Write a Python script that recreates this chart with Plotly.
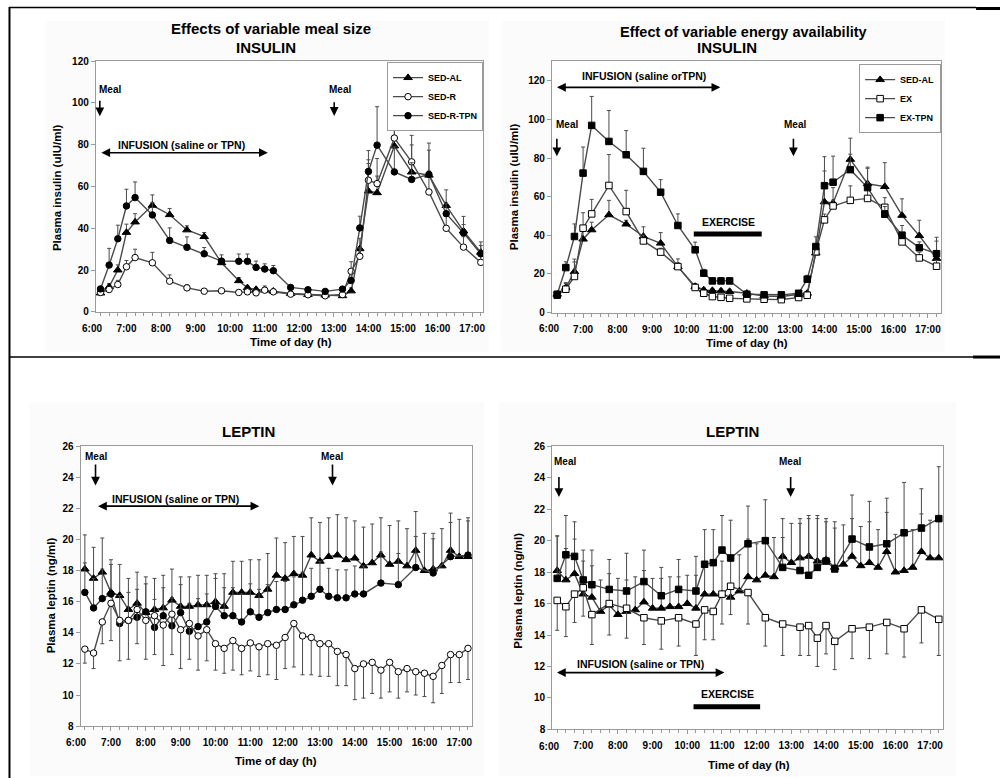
import plotly.graph_objects as go

W, H = 1002, 778
# empirical vertical correction so the photographed page matches reference pixel positions
VS, VOFF = 0.983, 6.0

def hrs(t):
    h, m = t.split(":")
    return int(h) + int(m) / 60.0

def px(x):
    return x / W

def py(y):
    return 1 - ((y - VOFF) / VS) / H

# ---------------- DATA ----------------
# Insulin sampling times (also used for EX / EX-TPN leptin)
ins_times = ["6:15", "6:30", "6:45", "7:00", "7:15", "7:45", "8:15", "8:45", "9:15", "9:45",
             "10:15", "10:30", "10:45", "11:00", "11:15", "11:45", "12:15", "12:45", "13:15",
             "13:30", "13:45", "14:00", "14:15", "14:45", "15:15", "15:45", "16:15", "16:45", "17:15"]

# Panel 1: Effects of variable meal size - insulin
p1_sedal = [9, 12, 20, 38, 43, 51, 46.5, 39.2, 36, 23.5, 14.9, 11.5, 10.7, 10.4, 9.9,
            8.8, 8.3, 8.0, 7.7, 10, 30.2, 57.8, 57, 79.4, 66.9, 65.4, 50.9, 38.7, 28.5]
p1_sedal_err = [1, 1.5, 2.5, 4, 4, 5, 3, 2, 2, 1.5, 1.5, 1, 1, 1, 1,
                1, 1, 1, 1, 1.5, 5, 15, 8, 14, 13, 12, 7.5, 7, 5]
p1_sedr = [9.3, 10.7, 13.1, 21.6, 26, 23.5, 14.7, 11.5, 9.9, 10.1, 9.3, 9.6, 9.1, 10.4, 9.6,
           8.5, 8.2, 7.7, 8.3, 19.4, 26.6, 63, 61.4, 83.2, 71.8, 57.4, 40, 31, 23.7]
p1_sedr_err = [1, 1, 2, 3, 4, 5, 3, 1.5, 1, 1, 1, 1, 1, 2, 1,
               1, 1, 1, 1, 4.6, 4, 8, 12, 15.7, 12.7, 10, 6, 5, 4]
p1_tpn = [11, 22.4, 35, 50.7, 54.7, 46.4, 34.2, 30.9, 27.8, 24.3, 24.2, 24.2, 21.3, 20.5, 19.7,
          11.7, 10.6, 9.8, 10.9, 15, 40.2, 67.2, 79.8, 67, 63.4, 65.8, 47, 37.8, 27.8]
p1_tpn_err = [1, 8, 6.5, 8, 7.5, 6, 6, 5, 3, 3, 3.5, 3.5, 3, 2.5, 2.5,
              1, 1, 1, 1, 3, 5.6, 10, 18.4, 12, 8, 15, 5, 4, 4]

# Panel 2: Effect of variable energy availability - insulin
p2_sedal = [9.5, 13, 21.2, 38, 42.8, 50.6, 45.8, 39.4, 35.9, 23.8, 13.5, 11.7, 11.4, 11.2, 10.9,
            10, 8.6, 8.3, 9.2, 10, 30.8, 57.3, 56.7, 79.3, 66.7, 65.2, 50.3, 39.8, 28]
p2_sedal_err = [1, 2.5, 5, 4, 4, 7.5, 2, 5, 5.5, 4, 1.5, 1, 1, 1, 1,
                1, 1, 1, 1, 1, 4, 16, 8, 11, 8.6, 12.4, 8.6, 8, 9]
p2_ex = [9, 12.1, 18.7, 43.7, 51.1, 65.8, 52.3, 37.1, 31.3, 23.8, 13, 10, 8.3, 7.9, 7.4,
         7.1, 6.9, 6.7, 7.8, 9, 31.5, 48, 55.2, 58.1, 59.1, 54.5, 36.6, 28.3, 24]
p2_ex_err = [1, 3, 9, 8, 7.5, 16, 11, 3, 2, 2, 1, 1, 1, 1, 1,
             1, 1, 1, 1, 1, 3, 3, 3, 7.5, 8, 5, 4, 3, 3]
p2_extpn = [9.5, 23.3, 39.4, 72.2, 96.9, 88.6, 81.7, 73.1, 62.3, 45.1, 32.5, 20.4, 16.4, 16.4, 16.4,
            9.5, 9.2, 9.2, 10.0, 17.3, 34.2, 65.7, 67.5, 74.0, 64.7, 50.9, 40.1, 33.6, 30.5]
p2_extpn_err = [1, 3, 6.5, 13.5, 15, 16, 12.5, 12, 6.5, 6, 4, 2, 1.5, 1.5, 1.5,
                1, 1, 1, 1, 2, 5, 15, 13.5, 8, 10, 4, 5, 3, 8.5]

# Leptin 15-min sampling times
lep_times = ["6:15", "6:30", "6:45", "7:00", "7:15", "7:30", "7:45", "8:00", "8:15", "8:30",
             "8:45", "9:00", "9:15", "9:30", "9:45", "10:00", "10:15", "10:30", "10:45", "11:00",
             "11:15", "11:30", "11:45", "12:00", "12:15", "12:30", "12:45", "13:00", "13:15", "13:30",
             "13:45", "14:00", "14:15", "14:30", "14:45", "15:00", "15:15", "15:30", "15:45", "16:00",
             "16:15", "16:30", "16:45", "17:00", "17:15"]

lep_sedal = [18.1, 17.5, 17.9, 16.6, 16.4, 15.5, 15.9, 15.3, 15.5, 15.6, 16.1, 15.7, 15.7, 15.8, 15.8,
             16.0, 15.7, 16.6, 16.6, 16.6, 16.4, 16.8, 17.7, 17.5, 17.8, 17.7, 19.0, 18.6, 18.9, 19.0,
             18.7, 18.8, 18.3, 18.5, 19.0, 18.4, 18.6, 18.3, 19.3, 18.0, 18.1, 18.3, 19.3, 18.9, 18.9]
lep_sedal_err = [2.2, 2.0, 2.2, 2.1, 2.0, 2.0, 2.0, 2.3, 2.0, 2.1, 2.0, 1.9, 1.9, 1.9, 1.9,
                 1.8, 2.1, 2.0, 2.0, 2.1, 2.3, 2.3, 2.4, 2.3, 2.4, 2.5, 2.4, 2.5, 2.5, 2.6,
                 2.7, 2.4, 2.5, 2.5, 2.4, 2.5, 2.6, 2.4, 2.5, 2.4, 2.3, 2.4, 2.4, 2.4, 2.5]

lep_sedr = [12.95, 12.7, 14.7, 15.9, 14.8, 14.8, 15.5, 14.8, 15.1, 14.5, 15.2, 14.2, 14.6, 13.8, 14.2,
            13.3, 13.0, 13.5, 13.0, 13.35, 13.1, 13.3, 13.2, 13.7, 14.6, 13.8, 13.7, 13.3, 13.3, 12.8,
            12.6, 11.7, 12.0, 12.1, 11.6, 12.1, 11.5, 11.7, 11.5, 11.4, 11.2, 11.9, 12.6, 12.6, 13.0]
lep_sedr_err = [0.9, 1.0, 1.4, 2.4, 2.6, 2.5, 2.2, 2.5, 2.5, 2.6, 2.6, 2.5, 2.3, 2.2, 2.0,
                1.7, 1.6, 1.9, 1.7, 1.8, 1.9, 2.0, 2.2, 2.0, 2.8, 2.5, 2.4, 2.1, 2.1, 2.2,
                2.0, 2.0, 2.2, 2.0, 1.8, 1.9, 1.7, 1.5, 1.5, 1.5, 1.7, 1.8, 1.8, 1.8, 2.0]

lep_tpn_times = ["6:15", "6:30", "6:45", "7:00", "7:15", "7:30", "7:45", "8:00", "8:15", "8:30",
                 "8:45", "9:00", "9:15", "9:30", "9:45", "10:00", "10:15", "10:30", "10:45", "11:00",
                 "11:15", "11:30", "11:45", "12:00", "12:15", "12:30", "12:45", "13:00", "13:15", "13:30",
                 "13:45", "14:00", "14:15", "14:45", "15:15", "15:45", "16:15", "16:45", "17:15"]
lep_tpn = [16.6, 15.6, 16.2, 16.5, 14.6, 14.8, 15.0, 15.35, 14.35, 15.1, 14.45, 15.3, 14.1, 14.4, 14.7,
           15.7, 15.1, 15.1, 14.7, 15.35, 15.0, 15.3, 15.5, 15.5, 15.8, 16.1, 16.35, 16.8, 16.35, 16.25,
           16.25, 16.5, 16.5, 17.2, 17.1, 18.2, 17.85, 18.9, 19.0]
lep_tpn_err = [1.9, 1.9, 1.9, 1.9, 1.8, 1.8, 1.8, 1.8, 1.8, 1.8, 1.8, 1.8, 1.8, 1.8, 1.8,
               1.8, 1.8, 1.8, 1.8, 1.8, 1.8, 1.8, 1.8, 1.8, 1.8, 1.8, 1.8, 1.8, 1.8, 1.8,
               1.8, 1.8, 1.8, 2.0, 2.0, 2.0, 2.2, 2.2, 2.2]

lep_ex = [16.2, 15.8, 16.6, 17.0, 15.3, 16.0, 15.7, 15.1, 14.9, 15.1, 14.7, 15.6, 15.5, 16.6, 17.1,
          16.7, 15.1, 14.7, 14.5, 14.6, 13.8, 14.6, 13.6, 14.4, 14.5, 14.8, 14.4, 15.6, 15.0]
lep_ex_err = [1.9, 1.9, 1.8, 1.8, 1.9, 2.0, 1.9, 1.7, 1.8, 1.8, 2.0, 1.9, 1.8, 1.9, 1.8,
              2.0, 1.8, 2.0, 1.8, 1.9, 1.8, 1.8, 1.8, 1.9, 2.0, 2.0, 1.8, 2.1, 2.3]
lep_extpn = [17.6, 19.1, 19.0, 17.5, 17.2, 16.9, 16.8, 17.4, 16.5, 16.9, 16.8, 18.5, 18.6, 19.4, 18.9,
             19.8, 20.0, 18.3, 18.1, 17.8, 18.3, 18.7, 18.2, 20.1, 19.6, 19.8, 20.5, 20.8, 21.4]
lep_extpn_err = [2.7, 2.5, 2.2, 1.9, 2.2, 1.9, 2.4, 2.0, 1.8, 1.9, 2.2, 2.2, 2.1, 2.2, 2.4,
                 2.4, 2.6, 1.9, 3.0, 3.6, 3.3, 2.7, 3.0, 2.8, 2.9, 2.9, 3.2, 2.5, 3.3]

hour_labels = ["6:00", "7:00", "8:00", "9:00", "10:00", "11:00", "12:00",
               "13:00", "14:00", "15:00", "16:00", "17:00"]

# ---------------- STYLE ----------------
FONT = "Liberation Sans, Arial, sans-serif"
LINE_C = "#4a4a4a"
ERR_C = "#4a4a4a"
AXIS_C = "#9a9a9a"


def series(x_times, y, err, name, symbol, fill, xa, ya, legend=None, down=False, size=6.5):
    zeros = [0] * len(err)
    ey = dict(type="data", symmetric=False, color=ERR_C, thickness=1, width=2,
              array=(zeros if down else err), arrayminus=(err if down else zeros))
    return go.Scatter(
        x=[hrs(t) for t in x_times], y=y, name=name, mode="lines+markers",
        xaxis=xa, yaxis=ya,
        line=dict(color=LINE_C, width=1.4),
        marker=dict(symbol=symbol, size=size, color=fill, line=dict(color="black", width=1)),
        error_y=ey, showlegend=legend is not None, legend=legend or "legend",
    )


fig = go.Figure()

# Panel 1
fig.add_trace(series(ins_times, p1_sedal, p1_sedal_err, "SED-AL", "triangle-up", "black", "x", "y", "legend", size=7.5))
fig.add_trace(series(ins_times, p1_sedr, p1_sedr_err, "SED-R", "circle", "white", "x", "y", "legend"))
fig.add_trace(series(ins_times, p1_tpn, p1_tpn_err, "SED-R-TPN", "circle", "black", "x", "y", "legend"))
# Panel 2
fig.add_trace(series(ins_times, p2_sedal, p2_sedal_err, "SED-AL", "triangle-up", "black", "x2", "y2", "legend2", size=7.5))
fig.add_trace(series(ins_times, p2_ex, p2_ex_err, "EX", "square", "white", "x2", "y2", "legend2"))
fig.add_trace(series(ins_times, p2_extpn, p2_extpn_err, "EX-TPN", "square", "black", "x2", "y2", "legend2"))
# Panel 3
fig.add_trace(series(lep_times, lep_sedal, lep_sedal_err, "SED-AL", "triangle-up", "black", "x3", "y3", size=7.5))
fig.add_trace(series(lep_tpn_times, lep_tpn, lep_tpn_err, "SED-R-TPN", "circle", "black", "x3", "y3"))
fig.add_trace(series(lep_times, lep_sedr, lep_sedr_err, "SED-R", "circle", "white", "x3", "y3", down=True))
# Panel 4
fig.add_trace(series(lep_times, lep_sedal, lep_sedal_err, "SED-AL", "triangle-up", "black", "x4", "y4", size=7.5))
fig.add_trace(series(ins_times, lep_ex, lep_ex_err, "EX", "square", "white", "x4", "y4", down=True))
fig.add_trace(series(ins_times, lep_extpn, lep_extpn_err, "EX-TPN", "square", "black", "x4", "y4"))

# ---------------- AXES ----------------
# xd/yd: plot-area pixel box; x6: pixel of the 6:00 tick; lab: pixel row of the hour labels
panels = {
    1: dict(xd=(96, 484), yd=(62, 312), xr=(6.114, 17.315), yr=(0, 120), dt=20, x6=92.0, lab=328.3),
    2: dict(xd=(553, 943), yd=(62.3, 312.7), xr=(6.096, 17.383), yr=(0, 130), dt=20, x6=549.7, lab=328.5),
    3: dict(xd=(80.7, 473), yd=(446, 725), xr=(6.126, 17.367), yr=(8, 26), dt=2, x6=76.3, lab=741.7),
    4: dict(xd=(553.3, 945), yd=(446, 728.3), xr=(6.106, 17.375), yr=(8, 26), dt=2, x6=549.6, lab=745.0),
}
tickfont = dict(family=FONT, size=10, color="black", weight="bold")
hour_vals = [hrs(t) for t in hour_labels]
for k, p in panels.items():
    sx = "" if k == 1 else str(k)
    fig.layout["xaxis" + sx] = dict(
        domain=[px(p["xd"][0]), px(p["xd"][1])], range=list(p["xr"]), anchor="y" + sx,
        tickvals=hour_vals[1:], ticktext=hour_labels[1:], ticks="outside", ticklen=4,
        tickcolor=AXIS_C, showline=True, linecolor=AXIS_C, linewidth=1, mirror=True,
        showgrid=False, zeroline=False, tickfont=tickfont, ticklabelstandoff=3,
        minor=dict(dtick=0.25, tick0=6, ticks="outside", ticklen=3, tickcolor=AXIS_C, showgrid=False),
    )
    fig.layout["yaxis" + sx] = dict(
        domain=[py(p["yd"][1]), py(p["yd"][0])], range=list(p["yr"]), anchor="x" + sx,
        dtick=p["dt"], tick0=0, ticks="outside", ticklen=4, tickcolor=AXIS_C,
        showline=True, linecolor=AXIS_C, linewidth=1, mirror=True,
        showgrid=False, zeroline=False, tickfont=tickfont,
    )

# ---------------- ANNOTATIONS ----------------
ann = []
def text(x, y, s, size=10, xanchor="center", xref="paper", yref="paper", angle=0, yanchor="middle"):
    ann.append(dict(x=x, y=y, xref=xref, yref=yref, text=s, showarrow=False, xanchor=xanchor,
                    yanchor=yanchor, textangle=angle,
                    font=dict(family=FONT, size=size, color="black", weight="bold")))

def arrow(x0, y0, x1, y1, xr, yr, both=False):
    ann.append(dict(x=x1, y=y1, ax=x0, ay=y0, xref=xr, yref=yr, axref=xr, ayref=yr, text="",
                    showarrow=True, arrowhead=2, arrowsize=1.1, arrowwidth=1.6, arrowcolor="black",
                    arrowside="end+start" if both else "end", startarrowhead=2, startarrowsize=1.1))

# 6:00 labels (the 6:00 tick sits just left of each plot box)
for k, p in panels.items():
    ann.append(dict(x=px(p["x6"]), y=py(p["lab"]), xref="paper", yref="paper", text=hour_labels[0],
                    showarrow=False, xanchor="center", yanchor="middle", font=tickfont))

# Titles
text(px(271.7), py(29.3), "Effects of variable meal size", 15)
text(px(266.7), py(48.3), "INSULIN", 15)
text(px(745), py(33.3), "Effect of variable energy availability", 14.5)
text(px(728.3), py(48.3), "INSULIN", 15)
text(px(249), py(431.7), "LEPTIN", 15)
text(px(734), py(431.7), "LEPTIN", 15)

# Axis titles
text(px(291.7), py(341.7), "Time of day (h)", 11.5)
text(px(748.3), py(343.3), "Time of day (h)", 11.5)
text(px(276.7), py(760), "Time of day (h)", 11.5)
text(px(750), py(763.3), "Time of day (h)", 11.5)
text(px(56.7), py(188), "Plasma insulin (uIU/ml)", 11.5, angle=-90)
text(px(515), py(186.7), "Plasma insulin (uIU/ml)", 11.5, angle=-90)
text(px(50.7), py(595), "Plasma leptin (ng/ml)", 11.5, angle=-90)
text(px(519), py(590), "Plasma leptin (ng/ml)", 11.5, angle=-90)

# Panel 1 annotations
text(6.158, 106.6, "Meal", 10, "left", "x", "y")
arrow(6.23, 101.8, 6.23, 93.6, "x", "y")
text(12.80, 106.6, "Meal", 10, "left", "x", "y")
arrow(13.01, 101, 13.01, 93.8, "x", "y")
text(8.59, 79.8, "INFUSION (saline or TPN)", 10.5, "center", "x", "y")
arrow(6.23, 76.2, 11.09, 76.2, "x", "y", both=True)

# Panel 2 annotations
text(6.168, 97.5, "Meal", 10, "left", "x2", "y2")
arrow(6.24, 90.8, 6.24, 80.9, "x2", "y2")
text(12.78, 97.5, "Meal", 10, "left", "x2", "y2")
arrow(13.10, 90.8, 13.10, 80.9, "x2", "y2")
text(8.78, 122.6, "INFUSION (saline orTPN)", 10.5, "center", "x2", "y2")
arrow(6.20, 116.6, 10.98, 116.6, "x2", "y2", both=True)
text(11.22, 46.8, "EXERCISE", 10.5, "center", "x2", "y2")

# Panel 3 annotations
text(6.556, 25.37, "Meal", 10, "center", "x3", "y3")
arrow(6.556, 24.92, 6.556, 23.48, "x3", "y3")
text(13.36, 25.37, "Meal", 10, "center", "x3", "y3")
arrow(13.36, 24.92, 13.36, 23.48, "x3", "y3")
text(8.865, 22.63, "INFUSION (saline or TPN)", 10.5, "center", "x3", "y3")
arrow(6.585, 22.15, 11.26, 22.15, "x3", "y3", both=True)

# Panel 4 annotations
text(6.48, 25.04, "Meal", 10, "center", "x4", "y4")
arrow(6.30, 24.15, 6.30, 22.77, "x4", "y4")
text(12.97, 25.04, "Meal", 10, "center", "x4", "y4")
arrow(12.98, 24.15, 12.98, 22.77, "x4", "y4")
text(8.64, 12.18, "INFUSION (saline or TPN)", 10.5, "center", "x4", "y4")
arrow(6.20, 11.61, 11.07, 11.61, "x4", "y4", both=True)
text(11.15, 10.23, "EXERCISE", 10.5, "center", "x4", "y4")

# ---------------- SHAPES ----------------
shapes = []
# very faint chart-area backgrounds with white plot areas
for (x0, y0, x1, y1) in [(45, 22, 490, 352), (502, 22, 947, 352), (30, 402, 485, 775), (500, 402, 958, 775)]:
    shapes.append(dict(type="rect", xref="paper", yref="paper", x0=px(x0), x1=px(x1), y0=py(y1), y1=py(y0),
                       fillcolor="#fbfbfb", line=dict(width=0), layer="below"))
for k, p in panels.items():
    shapes.append(dict(type="rect", xref="paper", yref="paper", x0=px(p["xd"][0]), x1=px(p["xd"][1]),
                       y0=py(p["yd"][1]), y1=py(p["yd"][0]), fillcolor="white", line=dict(width=0),
                       layer="below"))
# exercise bars
shapes.append(dict(type="line", xref="x2", yref="y2", x0=10.21, x1=12.18, y0=40.7, y1=40.7,
                   line=dict(color="black", width=5)))
shapes.append(dict(type="line", xref="x4", yref="y4", x0=10.18, x1=12.10, y0=9.44, y1=9.44,
                   line=dict(color="black", width=5)))
# table rules
for (x0, y0, x1, y1, w) in [(9, 8.5, 978, 8.5, 1.5), (978, 9.5, 1002, 9.5, 3),
                            (9, 357, 975, 357, 1.5), (975, 357, 1002, 357, 3),
                            (9.5, 8, 9.5, 790, 2)]:
    shapes.append(dict(type="line", xref="paper", yref="paper", x0=px(x0), x1=px(x1), y0=py(y0), y1=py(y1),
                       line=dict(color="black", width=w)))

legend_font = dict(family=FONT, size=9, color="black", weight="bold")
fig.update_layout(
    width=W, height=H, margin=dict(l=0, r=0, t=0, b=0),
    paper_bgcolor="white", plot_bgcolor="rgba(0,0,0,0)",
    annotations=ann, shapes=shapes,
    legend=dict(x=px(484), y=py(63), xanchor="right", yanchor="top", bgcolor="white",
                bordercolor="#9a9a9a", borderwidth=1, font=legend_font, itemwidth=30,
                tracegroupgap=0),
    legend2=dict(x=px(943), y=py(65), xanchor="right", yanchor="top", bgcolor="white",
                 bordercolor="#9a9a9a", borderwidth=1, font=legend_font, itemwidth=30,
                 tracegroupgap=0),
)

fig.write_html("out.html")
